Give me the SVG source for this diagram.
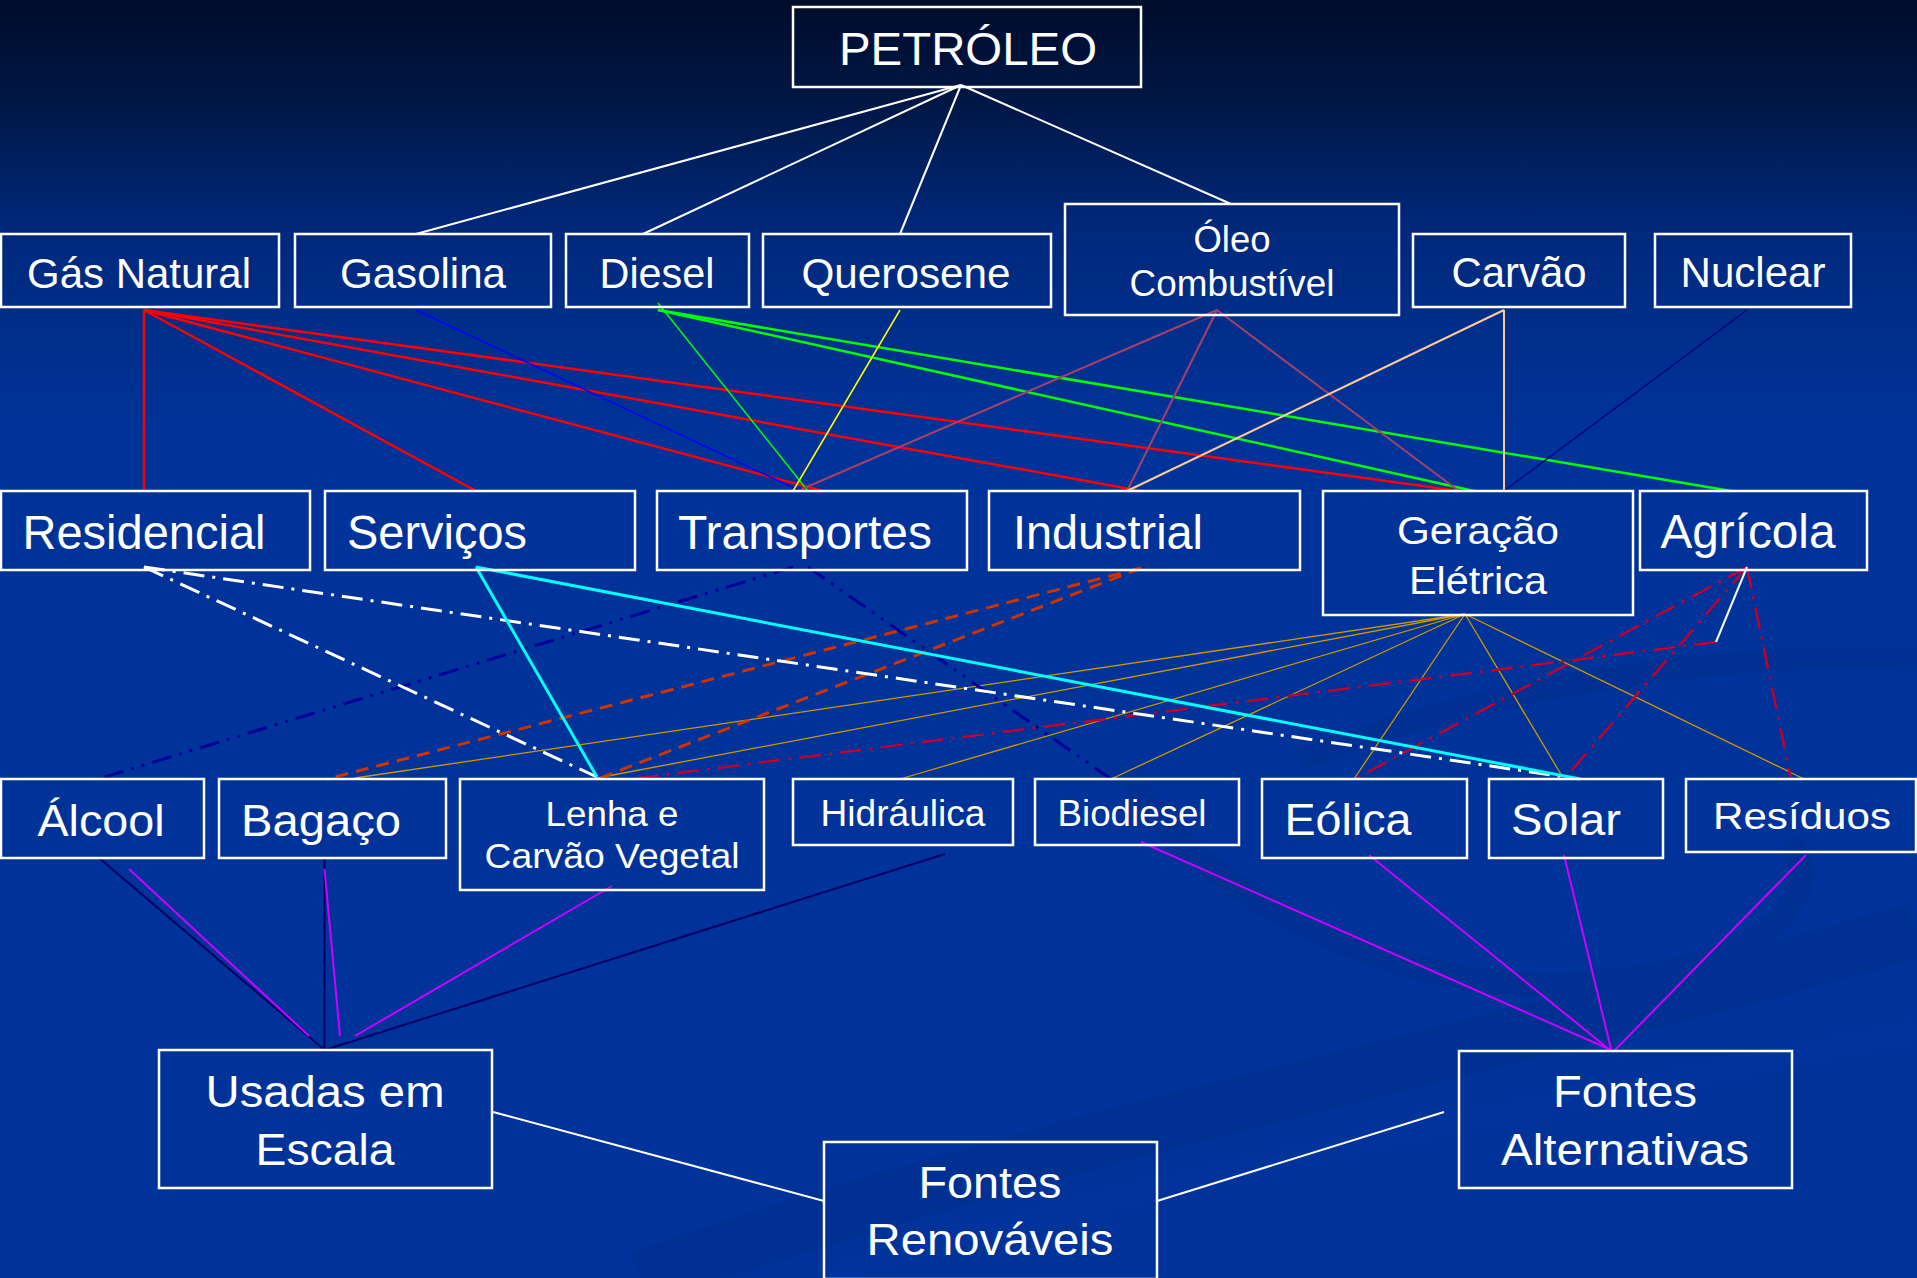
<svg xmlns="http://www.w3.org/2000/svg" width="1917" height="1278" viewBox="0 0 1917 1278">
<defs>
<linearGradient id="bg" x1="0" y1="0" x2="0" y2="1278" gradientUnits="userSpaceOnUse">
<stop offset="0" stop-color="#000c2b"/>
<stop offset="0.08" stop-color="#001745"/>
<stop offset="0.18" stop-color="#00297c"/>
<stop offset="0.34" stop-color="#003399"/>
<stop offset="1" stop-color="#003399"/>
</linearGradient>
<style>
.box{fill:none;stroke:#ffffff;stroke-width:2.5}
.t{fill:#ffffff;font-family:"Liberation Sans",Arial,sans-serif;text-anchor:middle}
.c{fill:none}
.w{stroke:#ffffff;stroke-width:2}
.red{stroke:#ff0000;stroke-width:2.5}
.blue{stroke:#0000ff;stroke-width:1.5}
.gt{stroke:#00ff00;stroke-width:1.5}
.g{stroke:#00ff00;stroke-width:2.5}
.y{stroke:#ffff00;stroke-width:1.5}
.rose{stroke:#a3416b;stroke-width:2}
.tan{stroke:#ffcc99;stroke-width:2}
.nv{stroke:#000080;stroke-width:1.5}
.wdd{stroke:#ffffff;stroke-width:3;stroke-dasharray:21 8 3 8}
.cy{stroke:#00ffff;stroke-width:3}
.ndd{stroke:#000099;stroke-width:3;stroke-dasharray:20 8 3 8 3 8}
.od{stroke:#cc3300;stroke-width:3;stroke-dasharray:13 8}
.gold{stroke:#cc9900;stroke-width:1.3}
.rdd{stroke:#c00030;stroke-width:2.5;stroke-dasharray:22 8 3 8}
.mg{stroke:#cc00ff;stroke-width:2}
.dn{stroke:#000066;stroke-width:2}
</style>
</defs>
<rect x="0" y="0" width="1917" height="1278" fill="url(#bg)"/>
<g id="swoosh" fill="none" opacity="0.35">
<path d="M 640 1278 C 1100 1120 1500 1050 1917 930" stroke="#002c86" stroke-width="55"/>
<path d="M 820 1278 C 1250 1150 1600 1100 1917 1030" stroke="#0038a3" stroke-width="25"/>
<path d="M 1135 781 C 1200 900 1400 990 1560 985 C 1760 975 1830 900 1790 840" stroke="#002c86" stroke-width="24"/>
<path d="M 1300 760 C 1500 680 1750 650 1917 660" stroke="#002c86" stroke-width="22"/>
</g>
<g id="connectors" class="c">
<line class="w" x1="961" y1="85" x2="416" y2="234"/>
<line class="w" x1="961" y1="85" x2="643" y2="234"/>
<line class="w" x1="961" y1="85" x2="900" y2="234"/>
<line class="w" x1="961" y1="85" x2="1231" y2="204"/>
<line class="red" x1="144" y1="310" x2="144" y2="491"/>
<line class="red" x1="144" y1="310" x2="476" y2="491"/>
<line class="red" x1="144" y1="310" x2="823" y2="491"/>
<line class="red" x1="144" y1="310" x2="1141" y2="491"/>
<line class="red" x1="144" y1="310" x2="1459" y2="491"/>
<line class="blue" x1="416" y1="310" x2="798" y2="490"/>
<line class="gt" x1="658" y1="303" x2="808" y2="491"/>
<line class="g" x1="658" y1="310" x2="1474" y2="491"/>
<line class="g" x1="658" y1="310" x2="1731" y2="491"/>
<line class="y" x1="900" y1="310" x2="793" y2="491"/>
<line class="rose" x1="1217" y1="310" x2="802" y2="489"/>
<line class="rose" x1="1217" y1="310" x2="1127" y2="491"/>
<line class="rose" x1="1217" y1="310" x2="1459" y2="491"/>
<line class="tan" x1="1504" y1="310" x2="1127" y2="491"/>
<line class="tan" x1="1504" y1="310" x2="1504" y2="491"/>
<line class="nv" x1="1747" y1="310" x2="1504" y2="491"/>
<line class="gold" x1="1465" y1="614" x2="355" y2="778"/>
<line class="gold" x1="1465" y1="614" x2="597" y2="778"/>
<line class="gold" x1="1465" y1="614" x2="900" y2="779"/>
<line class="gold" x1="1465" y1="614" x2="1111" y2="779"/>
<line class="gold" x1="1465" y1="614" x2="1354" y2="779"/>
<line class="gold" x1="1465" y1="614" x2="1562" y2="776"/>
<line class="gold" x1="1465" y1="614" x2="1804" y2="779"/>
<line class="od" x1="1141" y1="568" x2="327" y2="779"/>
<line class="od" x1="1141" y1="568" x2="600" y2="778"/>
<line class="rdd" x1="1716" y1="642" x2="630" y2="779"/>
<line class="rdd" x1="1747" y1="567" x2="1357" y2="778"/>
<line class="rdd" x1="1747" y1="567" x2="1565" y2="778"/>
<line class="rdd" x1="1747" y1="567" x2="1791" y2="779"/>
<line class="w" x1="1747" y1="567" x2="1716" y2="642"/>
<line class="ndd" x1="793" y1="567" x2="98" y2="779"/>
<line class="ndd" x1="808" y1="567" x2="1111" y2="779"/>
<line class="wdd" x1="144" y1="567" x2="597" y2="777"/>
<line class="wdd" x1="144" y1="567" x2="1565" y2="777"/>
<line class="cy" x1="476" y1="567" x2="597" y2="777"/>
<line class="cy" x1="476" y1="567" x2="1580" y2="779"/>
<line class="dn" x1="98" y1="857" x2="324.5" y2="1050"/>
<line class="dn" x1="324.5" y1="857" x2="324.5" y2="1050"/>
<line class="dn" x1="945" y1="854" x2="324.5" y2="1050"/>
<line class="mg" x1="129" y1="869" x2="309" y2="1036"/>
<line class="mg" x1="324.5" y1="869" x2="340" y2="1036"/>
<line class="mg" x1="612" y1="886" x2="355" y2="1036"/>
<line class="mg" x1="1141" y1="842" x2="1611" y2="1050"/>
<line class="mg" x1="1369" y1="855" x2="1610" y2="1050"/>
<line class="mg" x1="1564" y1="855" x2="1611" y2="1049"/>
<line class="mg" x1="1806" y1="855" x2="1615" y2="1050"/>
<line class="w" x1="493" y1="1112" x2="824" y2="1201"/>
<line class="w" x1="1157" y1="1201" x2="1444" y2="1112"/>
</g>
<g id="n-petroleo"><rect class="box" x="793" y="7" width="348" height="80"/><text class="t" x="968" y="65" font-size="46" textLength="258" lengthAdjust="spacingAndGlyphs">PETRÓLEO</text></g>
<g id="n-gas-natural"><rect class="box" x="1" y="234" width="278" height="73"/><text class="t" x="139" y="288" font-size="43" textLength="224" lengthAdjust="spacingAndGlyphs">Gás Natural</text></g>
<g id="n-gasolina"><rect class="box" x="295" y="234" width="256" height="73"/><text class="t" x="423" y="288" font-size="43" textLength="166" lengthAdjust="spacingAndGlyphs">Gasolina</text></g>
<g id="n-diesel"><rect class="box" x="566" y="234" width="183" height="73"/><text class="t" x="657" y="288" font-size="43" textLength="115" lengthAdjust="spacingAndGlyphs">Diesel</text></g>
<g id="n-querosene"><rect class="box" x="763" y="234" width="288" height="73"/><text class="t" x="906" y="288" font-size="43" textLength="209" lengthAdjust="spacingAndGlyphs">Querosene</text></g>
<g id="n-oleo"><rect class="box" x="1065" y="204" width="334" height="111"/><text class="t" x="1232" y="252" font-size="36" textLength="77" lengthAdjust="spacingAndGlyphs">Óleo</text><text class="t" x="1232" y="296" font-size="36" textLength="205" lengthAdjust="spacingAndGlyphs">Combustível</text></g>
<g id="n-carvao"><rect class="box" x="1413" y="234" width="212" height="73"/><text class="t" x="1519" y="287" font-size="43" textLength="135" lengthAdjust="spacingAndGlyphs">Carvão</text></g>
<g id="n-nuclear"><rect class="box" x="1655" y="234" width="196" height="73"/><text class="t" x="1753" y="287" font-size="43" textLength="145" lengthAdjust="spacingAndGlyphs">Nuclear</text></g>
<g id="n-residencial"><rect class="box" x="1" y="491" width="309" height="79"/><text class="t" x="144" y="549" font-size="48" textLength="243" lengthAdjust="spacingAndGlyphs">Residencial</text></g>
<g id="n-servicos"><rect class="box" x="325" y="491" width="310" height="79"/><text class="t" x="437" y="549" font-size="48" textLength="180" lengthAdjust="spacingAndGlyphs">Serviços</text></g>
<g id="n-transportes"><rect class="box" x="657" y="491" width="310" height="79"/><text class="t" x="805" y="549" font-size="48" textLength="254" lengthAdjust="spacingAndGlyphs">Transportes</text></g>
<g id="n-industrial"><rect class="box" x="989" y="491" width="311" height="79"/><text class="t" x="1108" y="549" font-size="48" textLength="190" lengthAdjust="spacingAndGlyphs">Industrial</text></g>
<g id="n-geracao"><rect class="box" x="1323" y="491" width="310" height="124"/><text class="t" x="1478" y="544" font-size="39" textLength="162" lengthAdjust="spacingAndGlyphs">Geração</text><text class="t" x="1478" y="594" font-size="39" textLength="138" lengthAdjust="spacingAndGlyphs">Elétrica</text></g>
<g id="n-agricola"><rect class="box" x="1640" y="491" width="227" height="79"/><text class="t" x="1748" y="548" font-size="48" textLength="175" lengthAdjust="spacingAndGlyphs">Agrícola</text></g>
<g id="n-alcool"><rect class="box" x="1" y="779" width="203" height="79"/><text class="t" x="101" y="836" font-size="45" textLength="127" lengthAdjust="spacingAndGlyphs">Álcool</text></g>
<g id="n-bagaco"><rect class="box" x="219" y="779" width="227" height="79"/><text class="t" x="321" y="836" font-size="45" textLength="160" lengthAdjust="spacingAndGlyphs">Bagaço</text></g>
<g id="n-lenha"><rect class="box" x="460" y="779" width="304" height="111"/><text class="t" x="612" y="826" font-size="35" textLength="133" lengthAdjust="spacingAndGlyphs">Lenha e</text><text class="t" x="612" y="868" font-size="35" textLength="255" lengthAdjust="spacingAndGlyphs">Carvão Vegetal</text></g>
<g id="n-hidraulica"><rect class="box" x="793" y="779" width="220" height="66"/><text class="t" x="903" y="826" font-size="36" textLength="165" lengthAdjust="spacingAndGlyphs">Hidráulica</text></g>
<g id="n-biodiesel"><rect class="box" x="1035" y="779" width="204" height="66"/><text class="t" x="1132" y="826" font-size="36" textLength="149" lengthAdjust="spacingAndGlyphs">Biodiesel</text></g>
<g id="n-eolica"><rect class="box" x="1262" y="779" width="205" height="79"/><text class="t" x="1348" y="835" font-size="45" textLength="127" lengthAdjust="spacingAndGlyphs">Eólica</text></g>
<g id="n-solar"><rect class="box" x="1489" y="779" width="174" height="79"/><text class="t" x="1566" y="835" font-size="45" textLength="110" lengthAdjust="spacingAndGlyphs">Solar</text></g>
<g id="n-residuos"><rect class="box" x="1686" y="779" width="230" height="73"/><text class="t" x="1802" y="829" font-size="37" textLength="178" lengthAdjust="spacingAndGlyphs">Resíduos</text></g>
<g id="n-usadas"><rect class="box" x="159" y="1050" width="333" height="138"/><text class="t" x="325" y="1107" font-size="45" textLength="239" lengthAdjust="spacingAndGlyphs">Usadas em</text><text class="t" x="325" y="1165" font-size="45" textLength="139" lengthAdjust="spacingAndGlyphs">Escala</text></g>
<g id="n-renovaveis"><rect class="box" x="824" y="1142" width="333" height="137"/><text class="t" x="990" y="1198" font-size="45" textLength="143" lengthAdjust="spacingAndGlyphs">Fontes</text><text class="t" x="990" y="1255" font-size="45" textLength="247" lengthAdjust="spacingAndGlyphs">Renováveis</text></g>
<g id="n-alternativas"><rect class="box" x="1459" y="1051" width="333" height="137"/><text class="t" x="1625" y="1107" font-size="45" textLength="144" lengthAdjust="spacingAndGlyphs">Fontes</text><text class="t" x="1625" y="1165" font-size="45" textLength="248" lengthAdjust="spacingAndGlyphs">Alternativas</text></g>
</svg>
